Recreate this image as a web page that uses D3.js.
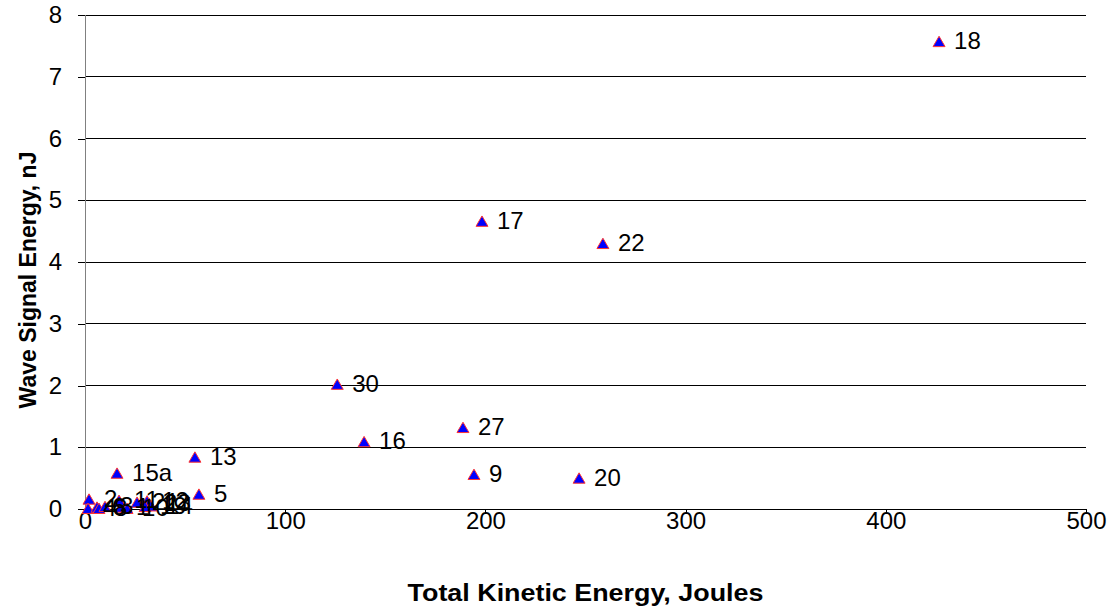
<!DOCTYPE html>
<html>
<head>
<meta charset="utf-8">
<script src="https://cdn.jsdelivr.net/npm/d3@7/dist/d3.min.js"></script>
<style>
  html, body { margin: 0; padding: 0; background: #fff; }
  svg { display: block; font-family: "Liberation Sans", Arial, sans-serif; }
</style>
</head>
<body>
<svg id="chart" width="1113" height="611"></svg>
<script>
// Test shots: label, total kinetic energy (J), wave signal energy (nJ)
const shotLabels = ["18", "17", "22", "30", "16", "27", "9", "20", "13", "15a", "5",
                    "2", "4", "6", "8", "3", "1", "11", "10", "21", "12", "23", "14", "19"];
const kineticEnergy = [426.6, 198.3, 258.7, 126.0, 139.4, 188.8, 194.3, 246.8, 54.9, 16.0, 56.9,
                       2.0, 1.5, 6.0, 7.0, 10.0, 18.0, 17.0, 21.0, 26.0, 31.0, 32.0, 33.0, 30.0];
const signalEnergy = [7.56, 4.65, 4.29, 2.01, 1.08, 1.31, 0.55, 0.49, 0.83, 0.57, 0.23,
                      0.15, 0.0, 0.02, 0.0, 0.03, 0.02, 0.13, 0.0, 0.1, 0.12, 0.08, 0.04, 0.03];

const xTicks = [0, 100, 200, 300, 400, 500];
const yTicks = [0, 1, 2, 3, 4, 5, 6, 7, 8];

const svg = d3.select("#chart");
const margin = { left: 85, right: 27, top: 15, bottom: 102 };
const W = 1113, H = 611;
const FONT = "Liberation Sans, Arial, sans-serif";

const x = d3.scaleLinear().domain([0, 500]).range([margin.left, W - margin.right]);
const y = d3.scaleLinear().domain([0, 8]).range([H - margin.bottom, margin.top]);

// horizontal gridlines
svg.append("g")
  .selectAll("line")
  .data(yTicks)
  .join("line")
  .attr("x1", x(0)).attr("x2", x(500))
  .attr("y1", d => y(d)).attr("y2", d => y(d))
  .attr("stroke", "#000").attr("stroke-width", 1)
  .attr("shape-rendering", "crispEdges");

// y axis
const yAxis = svg.append("g")
  .attr("transform", `translate(${x(0)},0)`)
  .call(d3.axisLeft(y).tickValues(yTicks).tickFormat(d3.format("d")).tickSize(7).tickPadding(16));
yAxis.select(".domain").attr("stroke", "#808080").attr("shape-rendering", "crispEdges");
yAxis.selectAll(".tick line").attr("stroke", "#000").attr("shape-rendering", "crispEdges");
yAxis.selectAll("text").attr("font-size", 24).attr("fill", "#000").attr("font-family", FONT);

// x axis
const xAxis = svg.append("g")
  .attr("transform", `translate(0,${y(0)})`)
  .call(d3.axisBottom(x).tickValues(xTicks).tickFormat(d3.format("d")).tickSize(5).tickPadding(0));
xAxis.select(".domain").attr("stroke", "#000").attr("shape-rendering", "crispEdges");
xAxis.selectAll(".tick line").attr("stroke", "#000").attr("shape-rendering", "crispEdges");
xAxis.selectAll("text").attr("font-size", 24).attr("fill", "#000").attr("font-family", FONT)
  .attr("y", 3);

// data points
const points = shotLabels.map((l, i) => ({ label: l, ke: kineticEnergy[i], se: signalEnergy[i] }));
const tri = d3.symbol().type(d3.symbolTriangle).size(62);

const g = svg.append("g");
g.selectAll("path")
  .data(points)
  .join("path")
  .attr("d", tri)
  .attr("transform", d => `translate(${x(d.ke)},${y(d.se) + 1})`)
  .attr("fill", "#0000ff")
  .attr("stroke", "#ff3333")
  .attr("stroke-width", 1);

// point labels
g.selectAll("text")
  .data(points)
  .join("text")
  .attr("x", d => x(d.ke) + 15)
  .attr("y", d => y(d.se) + 7)
  .attr("font-size", 24)
  .attr("fill", "#000")
  .text(d => d.label);

// axis titles
svg.append("text")
  .attr("transform", `translate(${(x(0) + x(500)) / 2},601) scale(1.12,1)`)
  .attr("text-anchor", "middle")
  .attr("font-size", 24)
  .attr("font-weight", "bold")
  .text("Total Kinetic Energy, Joules");

svg.append("text")
  .attr("transform", `translate(36,${(y(0) + y(8)) / 2 + 18}) rotate(-90)`)
  .attr("text-anchor", "middle")
  .attr("font-size", 23)
  .attr("font-weight", "bold")
  .text("Wave Signal Energy, nJ");
</script>
</body>
</html>
